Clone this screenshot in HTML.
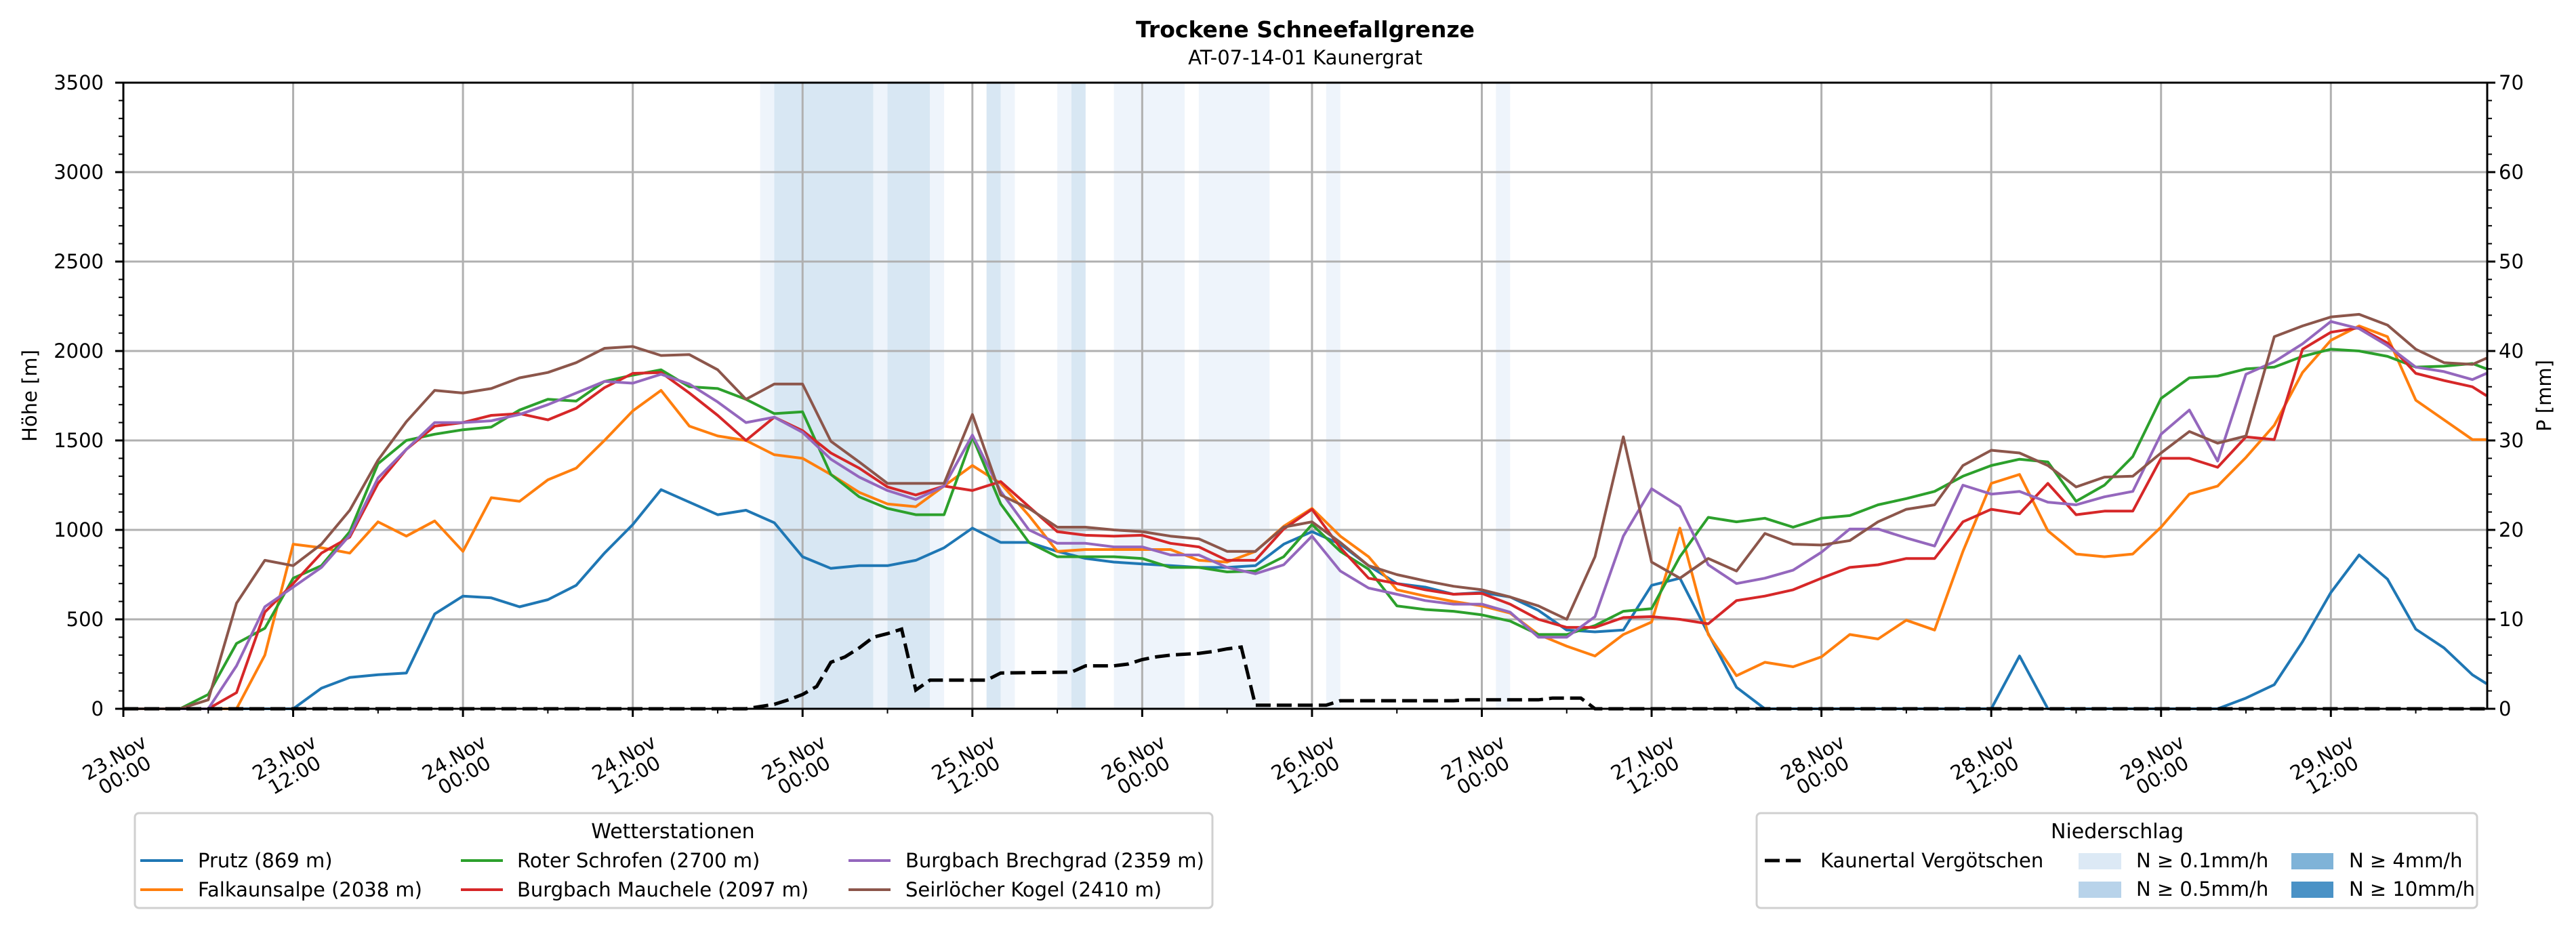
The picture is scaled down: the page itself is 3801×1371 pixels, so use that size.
<!DOCTYPE html>
<html><head><meta charset="utf-8">
<style>
html,body{margin:0;padding:0;background:#fff;}
svg{display:block;font-family:"DejaVu Sans","Liberation Sans",sans-serif;}
</style></head>
<body>
<svg id="chart" xmlns="http://www.w3.org/2000/svg" width="3801" height="1371" viewBox="0 0 3801 1371">
<rect x="0" y="0" width="3801" height="1371" fill="#fff"/>
<g id="bands"></g>
<g id="grid"></g>
<g id="series"></g>
<g id="axes"></g>
<text x="1926" y="55" font-size="33" font-weight="bold" text-anchor="middle">Trockene Schneefallgrenze</text>
<text x="1926" y="95" font-size="29" text-anchor="middle">AT-07-14-01 Kaunergrat</text>
<text x="0" y="0" font-size="29" text-anchor="middle" transform="translate(54,584) rotate(-90)">Höhe [m]</text>
<text x="0" y="0" font-size="29" text-anchor="middle" transform="translate(3764,584) rotate(-90)">P [mm]</text>

<g>
<rect x="199" y="1200" width="1590" height="140" rx="6" fill="#fff" stroke="#d0d0d0" stroke-width="3"/>
<text x="993" y="1237" font-size="30" text-anchor="middle">Wetterstationen</text>
<g><line x1="207" y1="1270" x2="270" y2="1270" stroke="#1f77b4" stroke-width="4"/><text x="292" y="1280" font-size="29">Prutz (869 m)</text></g>
<g><line x1="207" y1="1313" x2="270" y2="1313" stroke="#ff7f0e" stroke-width="4"/><text x="292" y="1323" font-size="29">Falkaunsalpe (2038 m)</text></g>
<g><line x1="680" y1="1270" x2="742" y2="1270" stroke="#2ca02c" stroke-width="4"/><text x="763" y="1280" font-size="29">Roter Schrofen (2700 m)</text></g>
<g><line x1="680" y1="1313" x2="742" y2="1313" stroke="#d62728" stroke-width="4"/><text x="763" y="1323" font-size="29">Burgbach Mauchele (2097 m)</text></g>
<g><line x1="1252" y1="1270" x2="1314" y2="1270" stroke="#9467bd" stroke-width="4"/><text x="1336" y="1280" font-size="29">Burgbach Brechgrad (2359 m)</text></g>
<g><line x1="1252" y1="1313" x2="1314" y2="1313" stroke="#8c564b" stroke-width="4"/><text x="1336" y="1323" font-size="29">Seirlöcher Kogel (2410 m)</text></g>
</g>

<g>
<rect x="2592" y="1200" width="1063" height="140" rx="6" fill="#fff" stroke="#d0d0d0" stroke-width="3"/>
<text x="3124" y="1237" font-size="30" text-anchor="middle">Niederschlag</text>
<g><line x1="2604" y1="1270" x2="2661" y2="1270" stroke="#000" stroke-width="5" stroke-dasharray="22,9"/><text x="2686" y="1280" font-size="29">Kaunertal Vergötschen</text></g>
<g><rect x="3067" y="1259" width="63" height="24" fill="#dce9f5"/><text x="3152" y="1280" font-size="29">N ≥ 0.1mm/h</text></g>
<g><rect x="3067" y="1301" width="63" height="24" fill="#b8d3ea"/><text x="3152" y="1322" font-size="29">N ≥ 0.5mm/h</text></g>
<g><rect x="3381" y="1259" width="62" height="24" fill="#7fb3d8"/><text x="3466" y="1280" font-size="29">N ≥ 4mm/h</text></g>
<g><rect x="3381" y="1301" width="62" height="24" fill="#4a92c6"/><text x="3466" y="1322" font-size="29">N ≥ 10mm/h</text></g>
</g>
</svg>
<script>
var hours = [0,2,4,6,8,10,12,14,16,18,20,22,24,26,28,30,32,34,36,38,40,42,44,46,48,50,52,54,56,58,60,62,64,66,68,70,72,74,76,78,80,82,84,86,88,90,92,94,96,98,100,102,104,106,108,110,112,114,116,118,120,122,124,126,128,130,132,134,136,138,140,142,144,146,148,150,152,154,156,158,160,162,164,166,167];
var prutz = [0,0,0,0,0,0,0,115,175,190,200,530,630,620,570,610,690,870,1030,1225,1155,1085,1110,1040,850,785,800,800,830,900,1010,930,930,880,840,820,810,800,790,790,800,920,990,920,800,700,680,640,650,625,550,440,430,440,690,730,420,120,0,0,0,0,0,0,0,0,0,295,0,0,0,0,0,0,0,60,135,375,650,860,725,445,340,190,140];
var falkaunsalpe = [0,0,0,0,0,300,920,900,870,1045,965,1050,880,1180,1160,1280,1345,1500,1665,1780,1580,1525,1500,1420,1400,1310,1210,1145,1130,1245,1360,1260,1080,880,890,890,890,890,830,820,880,1020,1120,965,850,665,630,600,575,535,415,350,295,415,485,1010,415,185,260,235,290,415,390,495,440,880,1260,1310,995,865,850,865,1015,1200,1245,1405,1585,1880,2060,2140,2080,1725,1615,1505,1505];
var roterSchrofen = [0,0,0,80,365,450,730,800,990,1370,1500,1535,1560,1575,1670,1730,1720,1830,1865,1895,1800,1790,1730,1650,1660,1310,1185,1120,1085,1085,1520,1145,930,850,850,850,840,790,790,765,770,850,1030,880,780,575,555,545,525,490,415,415,465,545,560,850,1070,1045,1065,1015,1065,1080,1140,1175,1215,1300,1360,1395,1380,1160,1250,1410,1735,1850,1860,1900,1910,1970,2010,2000,1970,1910,1915,1930,1900];
var mauchele = [0,0,0,0,90,540,700,870,960,1260,1450,1580,1600,1640,1650,1615,1680,1795,1875,1880,1765,1640,1500,1630,1555,1430,1345,1240,1195,1245,1220,1270,1130,990,970,965,970,925,905,830,830,1005,1115,900,730,700,665,640,645,585,500,455,455,510,515,500,475,605,630,665,730,790,805,840,840,1045,1115,1090,1260,1085,1105,1105,1400,1400,1350,1520,1505,2010,2105,2130,2045,1875,1835,1800,1750];
var brechgrad = [0,0,0,0,240,570,680,790,970,1290,1450,1600,1600,1610,1645,1700,1765,1830,1820,1870,1815,1715,1600,1630,1545,1395,1295,1220,1170,1245,1530,1215,1000,925,925,905,905,860,860,790,755,805,965,770,675,640,605,585,585,540,400,400,515,965,1230,1130,805,700,730,775,875,1005,1005,955,910,1250,1200,1215,1155,1140,1185,1215,1535,1670,1385,1870,1940,2040,2165,2125,2030,1910,1885,1840,1875];
var seirloecher = [0,0,0,50,590,830,800,920,1110,1390,1605,1780,1765,1790,1850,1880,1935,2015,2025,1975,1980,1895,1730,1815,1815,1495,1380,1260,1260,1260,1645,1195,1120,1015,1015,1000,990,965,950,880,880,1015,1045,930,800,750,715,685,665,625,575,500,850,1520,820,730,840,770,980,920,915,940,1045,1115,1140,1360,1445,1430,1360,1240,1295,1300,1430,1550,1485,1525,2080,2140,2190,2205,2145,2010,1935,1925,1960];
var precipHours = [0,44,46,47,48,49,50,51,52,53,54,55,56,57,61,62,67,68,70,71,72,73,74,76,77,78,79,80,85,86,94,95,100,101,103,104,167];
var precipMM = [0,0,0.5,1,1.6,2.5,5.2,5.8,6.8,8.0,8.4,8.9,2.1,3.2,3.2,4.0,4.1,4.8,4.8,5.0,5.5,5.8,6.0,6.2,6.4,6.7,6.9,0.4,0.4,0.9,0.9,1.0,1.0,1.2,1.2,0,0];
var bandStart = [45,46,53,54,57,61,62,66,67,70,76,85,97];
var bandEnd   = [46,53,54,57,58,62,63,67,68,75,81,86,98];
var bandLevel = [1,2,1,2,1,2,1,1,2,1,1,1,1];
var yTicks = [0,500,1000,1500,2000,2500,3000,3500];
var y2Ticks = [0,10,20,30,40,50,60,70];
var dayLabels = ["23.Nov","24.Nov","25.Nov","26.Nov","27.Nov","28.Nov","29.Nov"];

var NS = "http://www.w3.org/2000/svg";
var X0 = 182, HW = 20.88, YB = 1046, YT = 122, YMAX = 3500, XR = 3670;
function xs(h){ return X0 + h*HW; }
function ys(m){ return YB - m*(YB-YT)/YMAX; }
function ys2(mm){ return ys(mm*50); }
function mk(tag, attrs, parent){
  var e = document.createElementNS(NS, tag);
  for (var k in attrs) e.setAttribute(k, attrs[k]);
  parent.appendChild(e);
  return e;
}
var gB = document.getElementById('bands'), gG = document.getElementById('grid'),
    gS = document.getElementById('series'), gA = document.getElementById('axes');

for (var i=0;i<bandStart.length;i++){
  var r = mk('rect',{x:xs(bandStart[i]),y:YT,width:xs(bandEnd[i])-xs(bandStart[i]),height:YB-YT,fill:bandLevel[i]==2?'#d8e7f3':'#eef4fb'},gB);
  
  
}
for (var h=0; h<=156; h+=12){
  var gl = mk('line',{x1:xs(h),y1:YT,x2:xs(h),y2:YB,stroke:'#b0b0b0','stroke-width':3},gG);
  
  
}
for (var i=1;i<yTicks.length;i++){
  var gl2 = mk('line',{x1:X0,y1:ys(yTicks[i]),x2:XR,y2:ys(yTicks[i]),stroke:'#b0b0b0','stroke-width':3},gG);
  
  
}
var seriesList = [[prutz,'#1f77b4','series-prutz'],[falkaunsalpe,'#ff7f0e','series-falkaunsalpe'],[roterSchrofen,'#2ca02c','series-roter-schrofen'],[mauchele,'#d62728','series-burgbach-mauchele'],[brechgrad,'#9467bd','series-burgbach-brechgrad'],[seirloecher,'#8c564b','series-seirloecher-kogel']];
seriesList.forEach(function(s){
  var pts = hours.map(function(h,i){ return xs(h).toFixed(1)+','+ys(s[0][i]).toFixed(1); }).join(' ');
  var pl = mk('polyline',{points:pts,fill:'none',stroke:s[1],'stroke-width':4,'stroke-linejoin':'round'},gS);
  
  
});
var ppts = precipHours.map(function(h,i){ return xs(h).toFixed(1)+','+ys2(precipMM[i]).toFixed(1); }).join(' ');
var pline = mk('polyline',{points:ppts,fill:'none',stroke:'#000','stroke-width':5,'stroke-dasharray':'22,9'},gS);



mk('rect',{x:X0,y:YT,width:XR-X0,height:YB-YT,fill:'none',stroke:'#000','stroke-width':3},gA);
for (var v=0; v<=3500; v+=100){
  var major = v%500==0;
  mk('line',{x1:X0,y1:ys(v),x2:X0-(major?12:7),y2:ys(v),stroke:'#000','stroke-width':major?3:2},gA);
  mk('line',{x1:XR,y1:ys(v),x2:XR+(major?12:7),y2:ys(v),stroke:'#000','stroke-width':major?3:2},gA);
}
yTicks.forEach(function(v){
  var t = mk('text',{x:153,y:ys(v)+10,'font-size':29,'text-anchor':'end'},gA);
  t.textContent = v;
  
  
});
y2Ticks.forEach(function(v){
  var t = mk('text',{x:3687,y:ys2(v)+10,'font-size':29},gA);
  t.textContent = v;
  
  
});
for (var h=0; h<=162; h+=6){
  var major = h%12==0;
  mk('line',{x1:xs(h),y1:YB,x2:xs(h),y2:YB+(major?12:7),stroke:'#000','stroke-width':major?3:2},gA);
  if (major){
    var g = mk('g',{transform:'translate('+(xs(h)-6)+',1130) rotate(-30)'},gA);
    
    
    var t1 = mk('text',{x:0,y:-4,'font-size':29,'text-anchor':'middle'},g);
    t1.textContent = dayLabels[Math.floor(h/24)];
    var t2 = mk('text',{x:0,y:26,'font-size':29,'text-anchor':'middle'},g);
    t2.textContent = (h%24==0)?'00:00':'12:00';
  }
}
</script>
</body></html>
